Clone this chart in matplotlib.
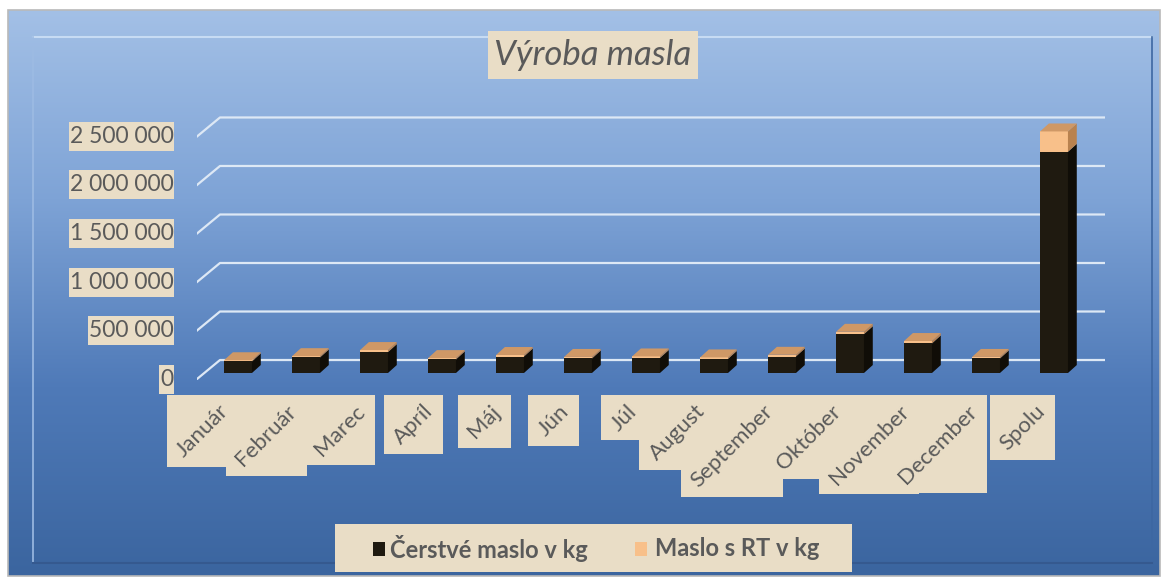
import numpy as np
import matplotlib
matplotlib.use("Agg")
import matplotlib.pyplot as plt
from matplotlib.patches import Polygon, Rectangle
from matplotlib.colors import LinearSegmentedColormap

plt.rcParams['font.family'] = ['Lato', 'DejaVu Sans']

months = ['Január', 'Február', 'Marec', 'Apríl', 'Máj', 'Jún', 'Júl', 'August',
          'September', 'Október', 'November', 'December', 'Spolu']
fresh = [120000, 160000, 215000, 140000, 170000, 150000, 155000, 145000,
         170000, 400000, 305000, 150000, 2280000]
rt = [12000, 14000, 22000, 14000, 16000, 16000, 16000, 16000,
      18000, 25000, 25000, 16000, 210000]
yticks = [0, 500000, 1000000, 1500000, 2000000, 2500000]
ytick_labels = ['0', '500 000', '1 000 000', '1 500 000', '2 000 000', '2 500 000']
series_names = ['Čerstvé maslo v kg', 'Maslo s RT v kg']

PAPER = '#e9ddc6'
GREY = '#5a5a5a'
W, H = 1167, 580

fig = plt.figure(figsize=(W / 100, H / 100), dpi=100)
fig.patch.set_facecolor('white')

# background frame with blue gradient (pixel coords, decoration only)
bg = fig.add_axes([0, 0, 1, 1], zorder=-10)
bg.set_xlim(0, W)
bg.set_ylim(H, 0)
bg.axis('off')
grad = np.linspace(0, 1, 256)[:, None]
cm = LinearSegmentedColormap.from_list('bg', ['#a3c0e6', '#7ea3d6', '#4f7ab8', '#3b659f'])
bg.imshow(grad, cmap=cm, aspect='auto', extent=[8, 1160, 576, 10])
bg.add_patch(Rectangle((8, 10), 1152, 566, fill=False, ec='#b9b9b9', lw=1.2))
bg.plot([33, 1152], [37, 37], color='#c7dbf3', lw=1.5)
bg.plot([33, 33], [37, 563], color='#9dbbe3', lw=1.2)
bg.plot([1152, 1152], [37, 563], color='#3d67a2', lw=1.2)
bg.plot([33, 1152], [563, 563], color='#35598f', lw=1.5)

# plot area in data coordinates
ax = fig.add_axes([197 / W, 1 - 380 / H, (1105 - 197) / W, (380 - 110) / H])
ax.set_xlim(-0.603, 12.75)
ax.set_ylim(-72000, 2711000)
ax.axis('off')

x = np.arange(len(months))
bw = 0.41
dx = 0.13
dy = 82000
back_dy = 134000
back_dx = 0.338

for v in yticks:
    ax.plot([-0.603, -0.603 + back_dx, 12.75], [v - 62000, v + back_dy, v + back_dy],
            color='#dde8f5', lw=1.6, zorder=1)

ax.bar(x, fresh, width=bw, color='#1f1a10', zorder=3)
ax.bar(x, rt, width=bw, bottom=fresh, color='#f8c08a', zorder=3)
for i in x:
    x0, x1 = i - bw / 2, i + bw / 2
    h1 = fresh[i]
    h = fresh[i] + rt[i]
    ax.add_patch(Polygon([(x1, 0), (x1 + dx, dy), (x1 + dx, h1 + dy), (x1, h1)],
                         closed=True, fc='#100d07', ec='none', zorder=3))
    ax.add_patch(Polygon([(x1, h1), (x1 + dx, h1 + dy), (x1 + dx, h + dy), (x1, h)],
                         closed=True, fc='#b9824f', ec='none', zorder=3))
    ax.add_patch(Polygon([(x0, h), (x1, h), (x1 + dx, h + dy), (x0 + dx, h + dy)],
                         closed=True, fc='#cf9866', ec='none', zorder=3))

ytexts = []
for v, lab in zip(yticks, ytick_labels):
    t = ax.text(-0.95, v - 62000, lab, ha='right', va='center', fontsize=16.5,
                color=GREY, zorder=5)
    ytexts.append(t)

month_texts = []
for i, lab in enumerate(months):
    t = ax.text(i - 0.08, -290000, lab, rotation=45, ha='right', va='top',
                fontsize=16, color=GREY, zorder=5)
    month_texts.append(t)

title = fig.text(593 / W, 1 - 55 / H, 'Výroba masla', ha='center', va='center',
                 fontsize=25, style='italic', color=GREY)

# legend
bg.add_patch(Rectangle((335, 524), 517, 48, fc=PAPER, ec='none', zorder=5))
bg.add_patch(Rectangle((373, 542), 12, 14, fc='#1f1a10', ec='none', zorder=6))
bg.add_patch(Rectangle((635, 542), 12, 14, fc='#f8c08a', ec='none', zorder=6))
fig.text(390 / W, 1 - 549 / H, series_names[0], ha='left', va='center',
         fontsize=17, fontweight='bold', color=GREY)
fig.text(655 / W, 1 - 549 / H, series_names[1], ha='left', va='center',
         fontsize=17, fontweight='bold', color=GREY)

# axis-aligned paper boxes behind texts, like the Excel label fills
fig.canvas.draw()
inv = bg.transData.inverted()


def paper_box(t, px, py):
    bb = t.get_window_extent()
    (bx0, by0), (bx1, by1) = inv.transform([(bb.x0 - px, bb.y0 - py), (bb.x1 + px, bb.y1 + py)])
    bg.add_patch(Rectangle((min(bx0, bx1), min(by0, by1)), abs(bx1 - bx0), abs(by1 - by0),
                           fc=PAPER, ec='none', zorder=5))


for t in month_texts:
    paper_box(t, 6, 6)
for t in ytexts:
    paper_box(t, 1, 4)
paper_box(title, 6, 8)

fig.savefig('out.png', dpi=100, facecolor=fig.get_facecolor())
